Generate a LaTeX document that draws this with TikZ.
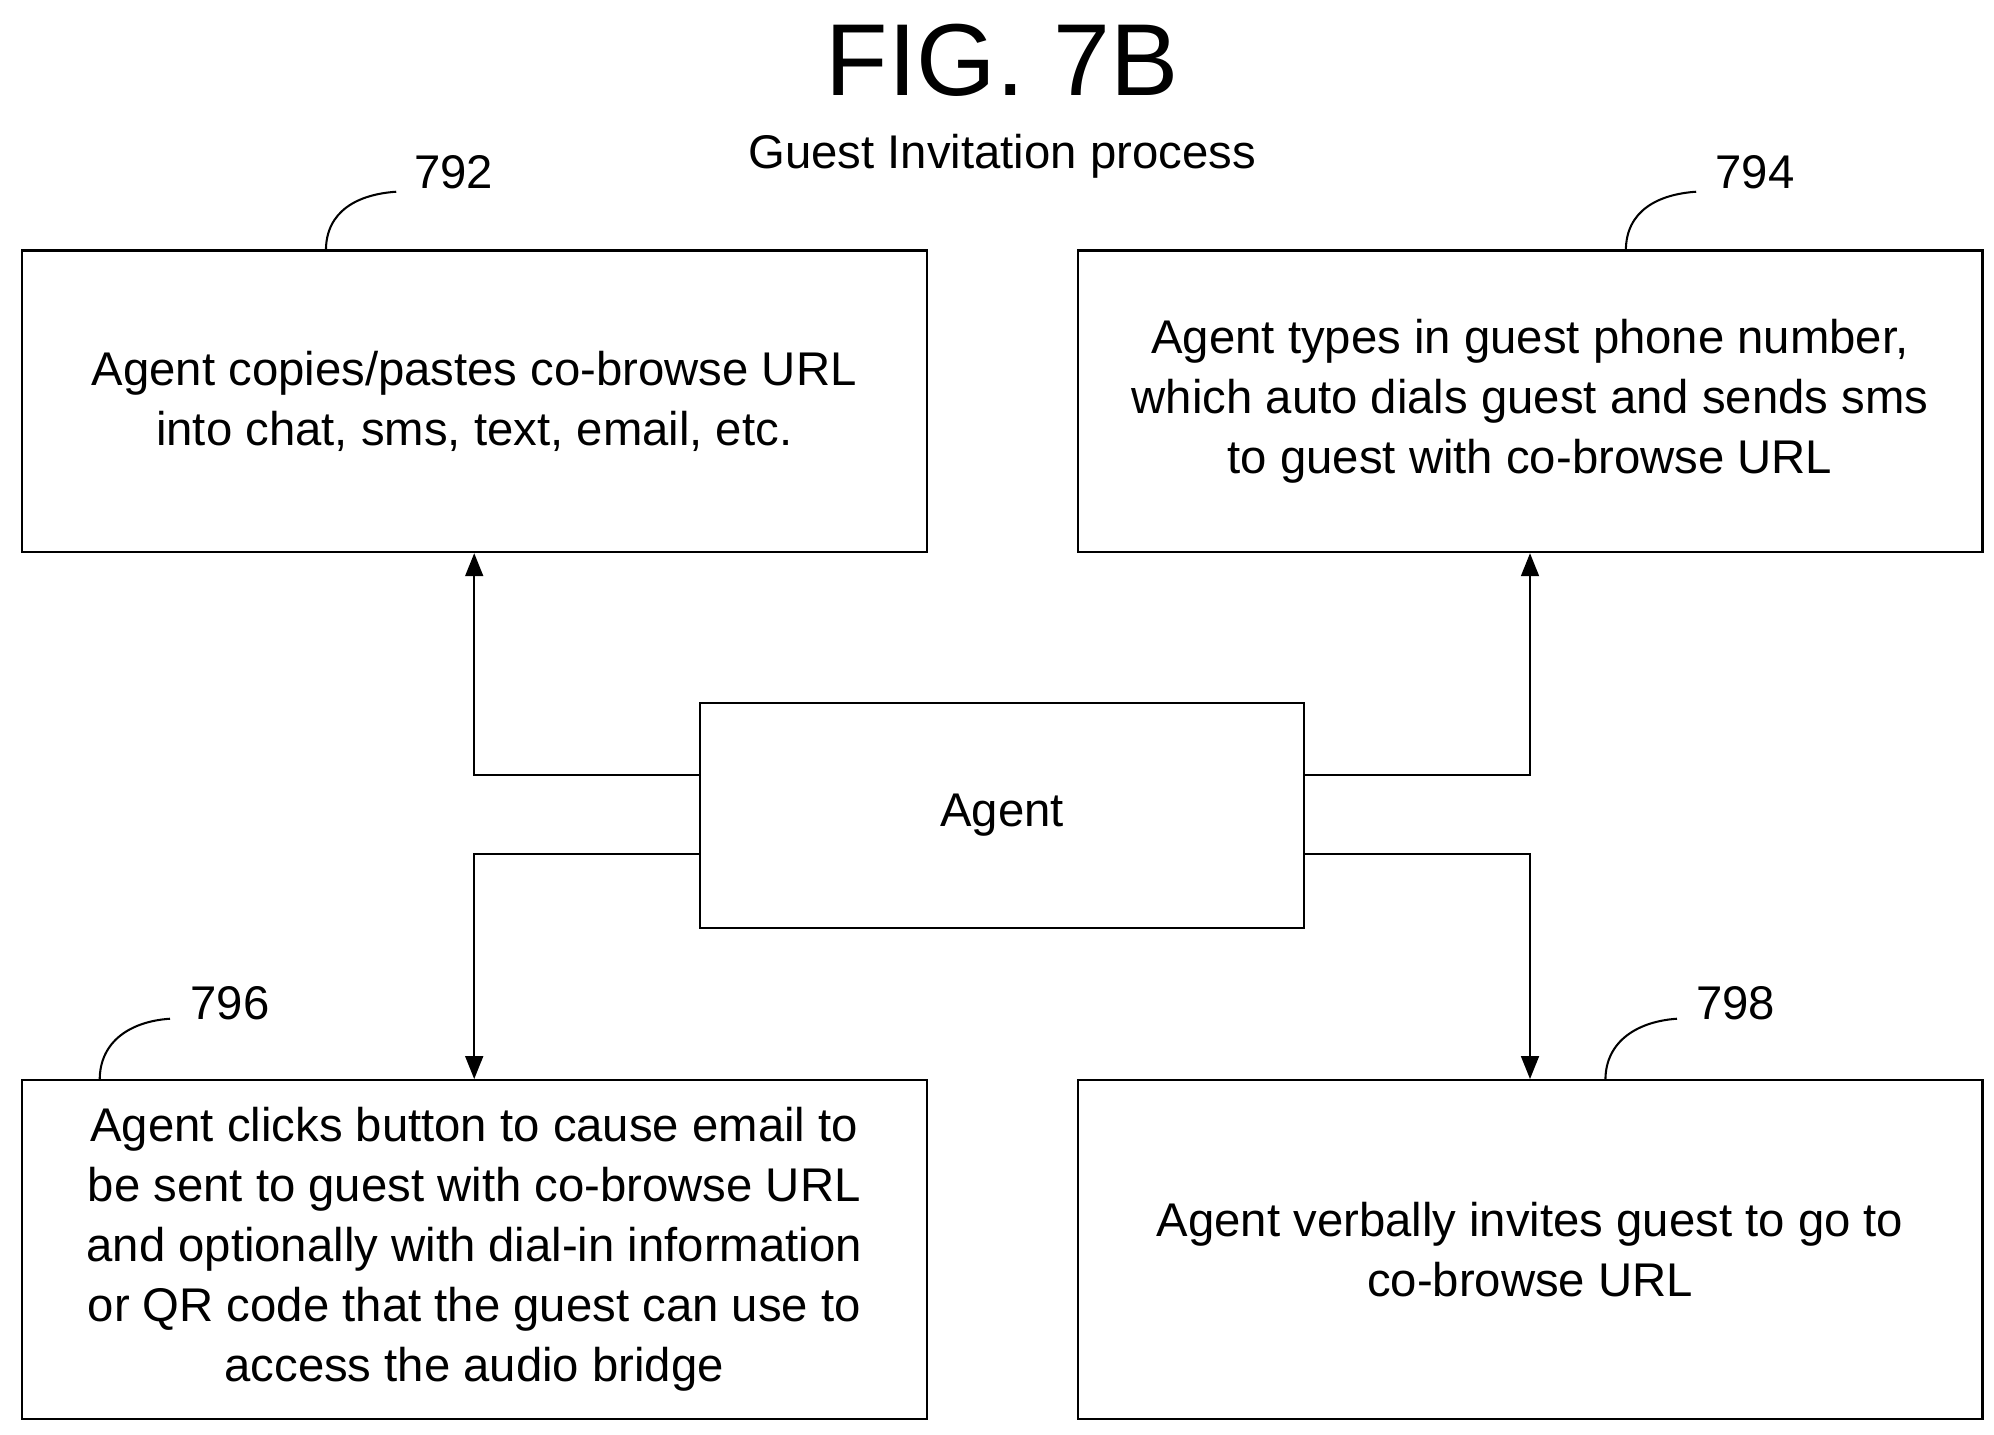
\documentclass[tikz,border=0pt]{standalone}
\usepackage{fontspec}
\setmainfont{Liberation Sans}
\usetikzlibrary{arrows.meta}
\tikzset{
  box/.style={draw,thick,inner sep=0pt,align=center,font=\fontsize{18.5}{23.5}\selectfont},
  flow/.style={thick,-{Triangle[length=9pt,width=7pt]}},
  refnum/.style={font=\fontsize{18.5}{22}\selectfont},
}
\begin{document}
\begin{tikzpicture}[x=0.5pt,y=0.5pt,yscale=-1]
			\useasboundingbox (0,0) rectangle (1560,1122);
			% title
			\node (fig) at (784,47) {\fontsize{40}{44}\selectfont FIG. 7B};
			\node (sub) at (784,122) {\fontsize{18.5}{22}\selectfont Guest Invitation process};
			% boxes
			\node[box,minimum width=354pt,minimum height=118pt] (copy) at (371,314) {Agent copies/pastes co-browse URL\\into chat, sms, text, email, etc.};
			\node[box,minimum width=354pt,minimum height=118pt] (dial) at (1197,314) {Agent types in guest phone number,\\which auto dials guest and sends sms\\to guest with co-browse URL};
			\node[box,minimum width=236pt,minimum height=88pt] (agent) at (784,638) {Agent};
			\node[box,minimum width=354pt,minimum height=132.5pt] (email) at (371,977.5) {Agent clicks button to cause email to\\be sent to guest with co-browse URL\\and optionally with dial-in information\\or QR code that the guest can use to\\access the audio bridge};
			\node[box,minimum width=354pt,minimum height=132.5pt] (verbal) at (1197,977.5) {Agent verbally invites guest to go to\\co-browse URL};
			% connectors
			\draw[flow] (agent.west |- 0,606) -| (copy.south);
			\draw[flow] (agent.east |- 0,606) -| (dial.south);
			\draw[flow] (agent.west |- 0,668) -| (email.north);
			\draw[flow] (agent.east |- 0,668) -| (verbal.north);
			% reference numerals
			\node[refnum] (n792) at (355,135) {792};
			\node[refnum] (n794) at (1373,135) {794};
			\node[refnum] (n796) at (180,785) {796};
			\node[refnum] (n798) at (1358,785) {798};
			\draw[thick] (255,196) .. controls (255,165) and (280,152) .. (310,150);
			\draw[thick] (1272,196) .. controls (1272,165) and (1297,152) .. (1327,150);
			\draw[thick] (78,845) .. controls (78,814) and (103,799) .. (133,797);
			\draw[thick] (1256,845) .. controls (1256,814) and (1282,799) .. (1312,797);
\end{tikzpicture}
\end{document}
